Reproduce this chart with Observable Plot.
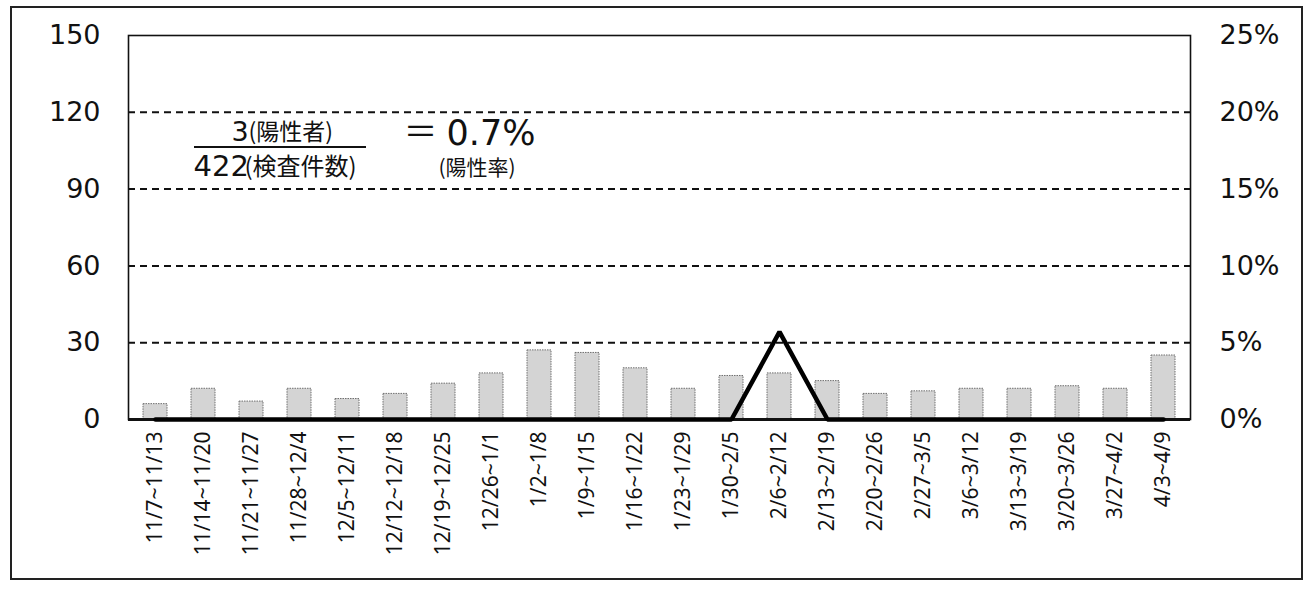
<!DOCTYPE html>
<html><head><meta charset="utf-8">
<script src="https://cdn.jsdelivr.net/npm/d3@7"></script>
<script src="https://cdn.jsdelivr.net/npm/@observablehq/plot@0.6"></script>
<style>
body{margin:0;background:#fff;}
#wrap{position:relative;width:1305px;height:593px;overflow:hidden;}
#border{position:absolute;left:10px;top:6px;width:1293px;height:574px;border:2px solid #222;box-sizing:border-box;pointer-events:none;}
#chart{position:absolute;left:0;top:0;}
</style></head><body>
<div id="wrap"><div id="chart"></div><div id="border"></div></div>
<script>
// ---- data ----
const weeks = ["11/7~11/13","11/14~11/20","11/21~11/27","11/28~12/4","12/5~12/11","12/12~12/18","12/19~12/25","12/26~1/1","1/2~1/8","1/9~1/15","1/16~1/22","1/23~1/29","1/30~2/5","2/6~2/12","2/13~2/19","2/20~2/26","2/27~3/5","3/6~3/12","3/13~3/19","3/20~3/26","3/27~4/2","4/3~4/9"];
const counts = [6,12,7,12,8,10,14,18,27,26,20,12,17,18,15,10,11,12,12,13,12,25];
const rates = [0,0,0,0,0,0,0,0,0,0,0,0,0,5.7,0,0,0,0,0,0,0,0];   // 陽性率 (%)
const leftTicks = [0,30,60,90,120,150];
const rightLabels = ["0%","5%","10%","15%","20%","25%"];
const gridTicks = [30,60,90,120];
const numeratorNum = "3", numeratorLabel = "(陽性者)";
const denominatorNum = "422", denominatorLabel = "(検査件数)";
const equalsText = "＝", rateText = "0.7%", rateLabel = "(陽性率)";

const rateMax = 25, countMax = 150;
const data = weeks.map((w,i)=>({week:w, count:counts[i], rate:rates[i]}));

const cjk = "'Noto Sans CJK JP', 'Noto Sans', sans-serif";
const num = "'DejaVu Sans', sans-serif";

const fracLine = (index, scales, values, dims) => {
  const g = document.createElementNS("http://www.w3.org/2000/svg","line");
  g.setAttribute("x1", dims.marginLeft + 66);
  g.setAttribute("x2", dims.marginLeft + 238);
  g.setAttribute("y1", dims.marginTop + 112);
  g.setAttribute("y2", dims.marginTop + 112);
  g.setAttribute("stroke", "#111");
  g.setAttribute("stroke-width", 2);
  return g;
};

const txt = (t, dx, dy, size, fam) => Plot.text([t], {
  text: d => d, frameAnchor: "top-left", dx, dy, textAnchor: "start",
  lineAnchor: "bottom", fontSize: size, fontFamily: fam, fill: "#111"
});

const chart = Plot.plot({
  width: 1305, height: 593,
  marginLeft: 128, marginRight: 115, marginTop: 35, marginBottom: 174,
  style: {background: "transparent", color: "#111", overflow: "visible"},
  x: {domain: weeks, paddingInner: 0.5, paddingOuter: 0.25},
  y: {domain: [0, countMax]},
  marks: [
    Plot.barY(data, {x: "week", y: "count", fill: "#d4d4d4", stroke: "#6f6f6f", strokeWidth: 1, strokeDasharray: "1.5,1"}),
    Plot.ruleY(gridTicks, {stroke: "#111", strokeWidth: 2, strokeDasharray: "7,5"}),
    Plot.frame({stroke: "#111", strokeWidth: 1.6}),
    Plot.ruleY([0], {stroke: "#111", strokeWidth: 3}),
    Plot.line(data, {x: "week", y: d => d.rate * countMax / rateMax, stroke: "#000", strokeWidth: 4.5, strokeLinejoin: "miter"}),
    Plot.axisY(leftTicks, {anchor: "left", tickSize: 0, tickPadding: 28, fontSize: 27, fontFamily: num, label: null}),
    Plot.axisY(leftTicks, {anchor: "right", tickSize: 0, tickPadding: 29, fontSize: 27, fontFamily: num, label: null,
      tickFormat: d => rightLabels[leftTicks.indexOf(d)]}),
    Plot.axisX({tickSize: 0, tickPadding: 12, tickRotate: -90, fontSize: 21, fontFamily: "'Noto Sans', sans-serif", label: null}),
    txt(numeratorNum, 103, 105, 27, num),
    txt(numeratorLabel, 120, 104, 23, cjk),
    fracLine,
    txt(denominatorNum, 65, 140, 29, num),
    txt(denominatorLabel, 116, 139, 24, cjk),
    txt(equalsText, 275, 108, 34, cjk),
    txt(rateText, 318, 109, 35, num),
    txt(rateLabel, 310, 139, 21, cjk)
  ]
});
document.getElementById("chart").appendChild(chart);
</script>
</body></html>
